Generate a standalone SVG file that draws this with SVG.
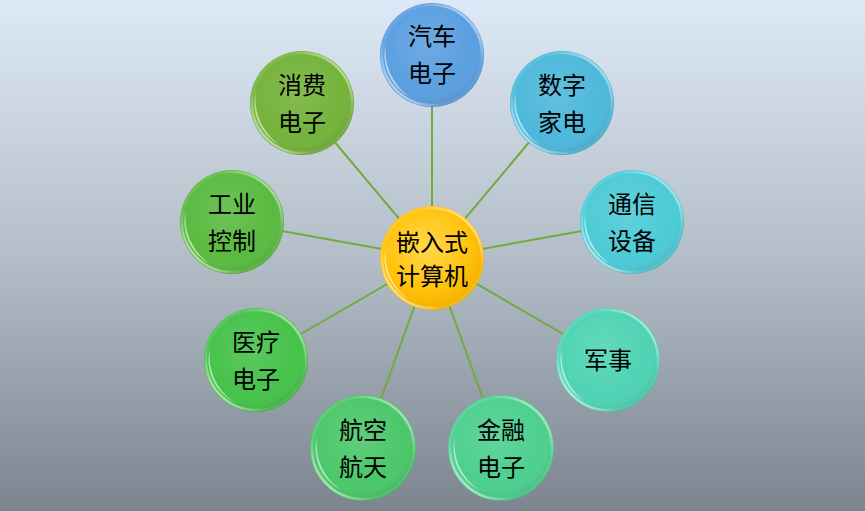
<svg xmlns="http://www.w3.org/2000/svg" width="865" height="511" viewBox="0 0 865 511">
<defs>
<linearGradient id="bg" x1="0" y1="0" x2="0" y2="1">
<stop offset="0" stop-color="#dde9f6"/>
<stop offset="0.5" stop-color="#b4bec8"/>
<stop offset="1" stop-color="#7c858f"/>
</linearGradient>
<radialGradient id="shade" cx="0.45" cy="0.4" r="0.6">
<stop offset="0" stop-color="#fff" stop-opacity="0.12"/>
<stop offset="0.75" stop-color="#fff" stop-opacity="0"/>
<stop offset="1" stop-color="#000" stop-opacity="0.10"/>
</radialGradient>
<linearGradient id="rim" x1="0" y1="1" x2="1" y2="0">
<stop offset="0" stop-color="#fff" stop-opacity="0.9"/>
<stop offset="0.3" stop-color="#fff" stop-opacity="0.1"/>
<stop offset="0.7" stop-color="#fff" stop-opacity="0.1"/>
<stop offset="1" stop-color="#fff" stop-opacity="0.8"/>
</linearGradient>
<radialGradient id="gold" cx="0.45" cy="0.4" r="0.6">
<stop offset="0" stop-color="#ffd84a"/>
<stop offset="0.7" stop-color="#ffc20a"/>
<stop offset="1" stop-color="#f2b000"/>
</radialGradient>
<path id="gloss" d="M -22,42 A47 47 0 0 1 -46,-12 A 56 56 0 0 0 -22 42 Z" fill="#fff" fill-opacity="0.55"/>
<style>
.e{stroke:#6fab3f;stroke-width:2;fill:none}
.t{font-family:"Noto Sans CJK SC","Noto Sans",sans-serif;font-size:24px;fill:#000;text-anchor:middle}
.sh{fill:url(#shade)}
.rm{fill:none;stroke:url(#rim);stroke-width:2.5}
</style>
</defs>
<rect width="865" height="511" fill="url(#bg)"/>
<g id="connectors">
<line class="e" x1="432" y1="258" x2="432" y2="55"/>
<line class="e" x1="432" y1="258" x2="562" y2="103"/>
<line class="e" x1="432" y1="258" x2="632" y2="222"/>
<line class="e" x1="432" y1="258" x2="608" y2="360"/>
<line class="e" x1="432" y1="258" x2="501" y2="448"/>
<line class="e" x1="432" y1="258" x2="363" y2="448"/>
<line class="e" x1="432" y1="258" x2="256" y2="360"/>
<line class="e" x1="432" y1="258" x2="232" y2="222"/>
<line class="e" x1="432" y1="258" x2="302" y2="103"/>
</g>
<g id="center">
<circle cx="432" cy="258" r="52" fill="url(#gold)"/>
<circle cx="432" cy="258" r="50" class="rm"/>
<use href="#gloss" x="432" y="258"/>
<text class="t" x="432" y="251">嵌入式</text>
<text class="t" x="432" y="285">计算机</text>
</g>
<g id="n1">
<circle cx="432" cy="55" r="52" fill="#5b9fe0"/>
<circle cx="432" cy="55" r="52" class="sh"/>
<circle cx="432" cy="55" r="50" class="rm"/>
<use href="#gloss" x="432" y="55"/>
<text class="t" x="432" y="45">汽车</text>
<text class="t" x="432" y="82">电子</text>
</g>
<g id="n2">
<circle cx="562" cy="103" r="52" fill="#4db8db"/>
<circle cx="562" cy="103" r="52" class="sh"/>
<circle cx="562" cy="103" r="50" class="rm"/>
<use href="#gloss" x="562" y="103"/>
<text class="t" x="562" y="94">数字</text>
<text class="t" x="562" y="131">家电</text>
</g>
<g id="n3">
<circle cx="632" cy="222" r="52" fill="#4ccbd6"/>
<circle cx="632" cy="222" r="52" class="sh"/>
<circle cx="632" cy="222" r="50" class="rm"/>
<use href="#gloss" x="632" y="222"/>
<text class="t" x="632" y="213">通信</text>
<text class="t" x="632" y="250">设备</text>
</g>
<g id="n4">
<circle cx="608" cy="360" r="52" fill="#4fd3b4"/>
<circle cx="608" cy="360" r="52" class="sh"/>
<circle cx="608" cy="360" r="50" class="rm"/>
<use href="#gloss" x="608" y="360"/>
<text class="t" x="608" y="369">军事</text>
</g>
<g id="n5">
<circle cx="501" cy="448" r="53" fill="#4dcf8f"/>
<circle cx="501" cy="448" r="53" class="sh"/>
<circle cx="501" cy="448" r="51" class="rm"/>
<use href="#gloss" x="501" y="448"/>
<text class="t" x="501" y="439">金融</text>
<text class="t" x="501" y="476">电子</text>
</g>
<g id="n6">
<circle cx="363" cy="448" r="53" fill="#4bc76a"/>
<circle cx="363" cy="448" r="53" class="sh"/>
<circle cx="363" cy="448" r="51" class="rm"/>
<use href="#gloss" x="363" y="448"/>
<text class="t" x="363" y="439">航空</text>
<text class="t" x="363" y="476">航天</text>
</g>
<g id="n7">
<circle cx="256" cy="360" r="52" fill="#46c24a"/>
<circle cx="256" cy="360" r="52" class="sh"/>
<circle cx="256" cy="360" r="50" class="rm"/>
<use href="#gloss" x="256" y="360"/>
<text class="t" x="256" y="351">医疗</text>
<text class="t" x="256" y="388">电子</text>
</g>
<g id="n8">
<circle cx="232" cy="222" r="52" fill="#5aba40"/>
<circle cx="232" cy="222" r="52" class="sh"/>
<circle cx="232" cy="222" r="50" class="rm"/>
<use href="#gloss" x="232" y="222"/>
<text class="t" x="232" y="213">工业</text>
<text class="t" x="232" y="250">控制</text>
</g>
<g id="n9">
<circle cx="302" cy="103" r="52" fill="#74b33a"/>
<circle cx="302" cy="103" r="52" class="sh"/>
<circle cx="302" cy="103" r="50" class="rm"/>
<use href="#gloss" x="302" y="103"/>
<text class="t" x="302" y="94">消费</text>
<text class="t" x="302" y="131">电子</text>
</g>
</svg>
